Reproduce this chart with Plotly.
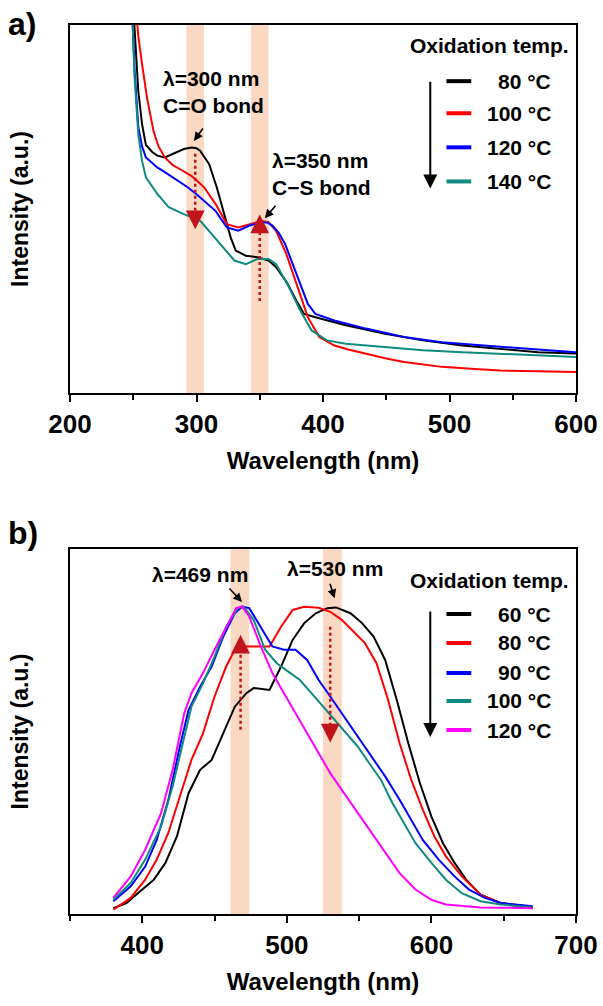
import plotly.graph_objects as go

# ---------------- Panel a (UV-vis absorption) ----------------
a_wl_80 = [250, 252, 254, 257, 260, 265, 269, 275, 284, 290, 296, 300, 303, 310, 316, 322, 327, 331, 339, 348, 357, 363, 372, 379, 385, 394, 418, 449, 479, 510, 540, 570, 600]
a_int_80 = [105, 92, 82, 73, 67.4, 65.5, 64.5, 64, 65.4, 66.3, 66.7, 66.5, 65.8, 62.2, 55.9, 48.6, 42.3, 38.7, 37.3, 36.9, 36, 34.2, 29.7, 25.1, 21.5, 20.6, 18.4, 16.1, 14.3, 12.9, 12, 11.1, 10.7]

a_wl_100 = [252, 254, 257, 261, 266, 270, 275, 281, 287, 296, 301, 306, 315, 324, 333, 342, 351, 357, 363, 371, 379, 388, 397, 409, 420, 433, 450, 464, 480, 494, 520, 540, 570, 600]
a_int_100 = [105, 97, 89.3, 80, 71.2, 67, 64, 62, 60.8, 59, 57.5, 55.9, 51.4, 45.9, 45, 45.9, 46.7, 46.4, 44, 37.8, 29.7, 20.6, 15.2, 12.9, 11.8, 10.7, 9.4, 8.4, 7.6, 7.1, 6.5, 6.1, 5.9, 5.7]

a_wl_120 = [249, 251, 254, 257, 260, 265, 269, 275, 281, 287, 293, 300, 306, 315, 324, 333, 342, 351, 356, 360, 365, 370, 379, 388, 394, 409, 434, 464, 494, 540, 570, 600]
a_int_120 = [105, 88, 72.2, 67, 64, 62.5, 61.3, 60, 58.6, 57.3, 55.9, 54, 52.3, 49.5, 45, 44.1, 45.5, 46.4, 46.3, 45.5, 43.5, 40.5, 32.4, 24.2, 21.5, 19.7, 17.5, 15.2, 13.8, 12.5, 11.8, 11.1]

a_wl_140 = [249, 251, 254, 257, 260, 265, 269, 278, 290, 303, 312, 321, 330, 339, 348, 357, 363, 373, 382, 391, 403, 418, 449, 479, 510, 540, 570, 600]
a_int_140 = [105, 86, 70.3, 63, 58.6, 56, 54.1, 50.5, 48.6, 46.8, 43.2, 39.6, 36, 35, 36.4, 36.4, 35, 28.8, 22.4, 17, 14.3, 13.4, 12.5, 11.6, 11.1, 10.7, 10.2, 9.8]

a_labels = ["80 °C", "100 °C", "120 °C", "140 °C"]
a_bands = [(292, 306), (343, 357)]

# ---------------- Panel b (PL emission) ----------------
b_wl_60 = [380, 389, 400, 408, 416, 424, 432, 440, 448, 456, 464, 472, 477, 488, 496, 504, 512, 520, 528, 534, 544, 552, 560, 568, 576, 584, 592, 600, 608, 616, 624, 634, 648, 670]
b_int_60 = [1.6, 3, 6.7, 9.4, 14, 21.3, 33.1, 39.5, 42.2, 49.5, 56.8, 60.5, 61.9, 61.4, 67.8, 75.1, 79.7, 82.4, 83.8, 84, 82.4, 79.7, 76, 69.6, 58.7, 46.8, 35.9, 26.7, 19.4, 14, 9.4, 5.3, 3, 1.9]

b_wl_80 = [380, 392, 402, 410, 418, 426, 434, 442, 450, 458, 464, 472, 480, 488, 496, 504, 512, 522, 530, 538, 546, 554, 562, 570, 578, 586, 594, 602, 610, 621, 634, 648, 670]
b_int_80 = [1.2, 4.4, 9.4, 14.9, 22.2, 32.2, 42.2, 49.5, 59.6, 67.8, 72.4, 73.3, 73.3, 73.3, 78.7, 83.3, 84.2, 83.9, 82.8, 80.6, 77.4, 74.2, 68.7, 58.7, 46.8, 36.8, 28.6, 21.3, 15.8, 10.3, 5.3, 3, 1.6]

b_wl_90 = [380, 392, 402, 410, 418, 426, 432, 440, 448, 456, 464, 469, 474, 482, 490, 498, 506, 514, 522, 530, 538, 546, 557, 568, 578, 586, 594, 605, 616, 626, 637, 648, 670]
b_int_90 = [3.5, 7.6, 13, 20.3, 31.2, 45.9, 55.9, 62.3, 67.8, 76, 82.4, 84.2, 83.8, 78.7, 73.3, 72.4, 72.4, 69.6, 64.1, 59.6, 55, 50.5, 44.1, 37.7, 31.3, 25.8, 20.3, 14.9, 10.3, 6.7, 4.4, 3, 2.1]

b_wl_100 = [380, 392, 402, 413, 421, 429, 434, 442, 450, 458, 466, 470, 477, 485, 493, 501, 509, 517, 525, 533, 541, 549, 557, 565, 573, 581, 589, 600, 610, 621, 634, 648, 670]
b_int_100 = [3.9, 8.5, 14.9, 24, 35, 48.6, 56.8, 63.2, 70.5, 78.7, 83.8, 84.2, 80.6, 72.4, 68.7, 66.4, 64.1, 60.5, 56.8, 53.2, 49.5, 45.9, 41.3, 36.8, 30.4, 24.9, 19.4, 14, 9.4, 5.7, 3.5, 2.6, 1.8]

b_wl_120 = [380, 392, 402, 413, 421, 429, 434, 442, 450, 458, 465, 469, 474, 482, 490, 498, 506, 514, 522, 530, 538, 546, 554, 562, 570, 578, 589, 600, 610, 634, 670]
b_int_120 = [4.4, 10.3, 17.6, 27.6, 39.5, 55, 60.5, 66, 72.4, 78.7, 83.8, 84.2, 81.5, 73.3, 66, 60.5, 55, 49.5, 44.1, 38.6, 34, 29.5, 24.9, 20.3, 15.8, 11.2, 6.7, 3.9, 2.6, 1.8, 1.6]

b_labels = ["60 °C", "80 °C", "90 °C", "100 °C", "120 °C"]
b_bands = [(461, 474), (525, 538)]

# ---------------- style ----------------
FONT = "Arial, Liberation Sans, sans-serif"
C_BLACK, C_RED, C_BLUE, C_TEAL, C_MAG = "#000000", "#ff0000", "#0000ff", "#0f8a80", "#ff00ff"
BAND = "#fbd8c2"
ARROW_RED = "#c0141c"

a_series = [(a_wl_80, a_int_80, C_BLACK), (a_wl_100, a_int_100, C_RED),
            (a_wl_120, a_int_120, C_BLUE), (a_wl_140, a_int_140, C_TEAL)]
b_series = [(b_wl_60, b_int_60, C_BLACK), (b_wl_80, b_int_80, C_RED), (b_wl_90, b_int_90, C_BLUE),
            (b_wl_100, b_int_100, C_TEAL), (b_wl_120, b_int_120, C_MAG)]

fig = go.Figure()
for (xs, ys, c), lab in zip(a_series, a_labels):
    fig.add_trace(go.Scatter(x=xs, y=ys, mode="lines", line=dict(color=c, width=2),
                             name=lab, showlegend=False, xaxis="x", yaxis="y"))
for (xs, ys, c), lab in zip(b_series, b_labels):
    fig.add_trace(go.Scatter(x=xs, y=ys, mode="lines", line=dict(color=c, width=2),
                             name=lab, showlegend=False, xaxis="x2", yaxis="y2"))

W, H = 603, 1006
def dom_x(px0, px1):
    return [px0 / W, px1 / W]
def dom_y(top, bot):
    return [1 - bot / H, 1 - top / H]

axis_common = dict(showline=True, linewidth=2, linecolor="black", mirror=True,
                   showgrid=False, zeroline=False, automargin=False)
xcommon = dict(axis_common, ticks="outside", ticklen=7, tickwidth=2, tickcolor="black",
               tickfont=dict(family=FONT, size=26, color="black", weight="bold"),
               title_font=dict(family=FONT, size=24, color="black", weight="bold"),
               title_standoff=14)
ycommon = dict(axis_common, showticklabels=False, ticks="", range=[0, 100],
               title_font=dict(family=FONT, size=23, color="black", weight="bold"),
               title_standoff=33)

fig.update_layout(
    width=W, height=H, margin=dict(l=0, r=0, t=0, b=0, autoexpand=False),
    paper_bgcolor="white", plot_bgcolor="white",
    xaxis=dict(xcommon, domain=dom_x(70, 576), range=[200, 600], dtick=100, anchor="y",
               minor=dict(dtick=50, ticks="outside", ticklen=5, tickwidth=2, tickcolor="black"),
               title_text="Wavelength (nm)"),
    yaxis=dict(ycommon, domain=dom_y(25, 393), anchor="x", title_text="Intensity (a.u.)"),
    xaxis2=dict(xcommon, domain=dom_x(70, 576), range=[350, 700], dtick=100, tick0=400, anchor="y2",
                minor=dict(dtick=50, ticks="outside", ticklen=5, tickwidth=2, tickcolor="black"),
                title_text="Wavelength (nm)"),
    yaxis2=dict(ycommon, domain=dom_y(549, 914), anchor="x2", title_text="Intensity (a.u.)"),
    showlegend=False,
)

shapes = []
annotations = []

# shaded bands
for xr, yr, bands in [("x", "y", a_bands), ("x2", "y2", b_bands)]:
    for b0, b1 in bands:
        shapes.append(dict(type="rect", xref=xr, yref=yr + " domain", x0=b0, x1=b1, y0=0, y1=1,
                           fillcolor=BAND, line=dict(width=0), layer="below"))

# red dotted arrows (x, y_start, y_tip)
red_arrows = [("x", "y", 299, 65, 44.5), ("x", "y", 350, 25, 48.5),
              ("x2", "y2", 468, 50.5, 76.5), ("x2", "y2", 530, 78.7, 47)]
for xr, yr, xv, y0, y1 in red_arrows:
    sgn = 1 if y1 > y0 else -1
    shapes.append(dict(type="line", xref=xr, yref=yr, x0=xv, x1=xv, y0=y0, y1=y1 - sgn * 3,
                       line=dict(color=ARROW_RED, width=2.5, dash="dot")))
    annotations.append(dict(xref=xr, yref=yr, x=xv, y=y1, axref=xr, ayref=yr, ax=xv, ay=y1 - sgn * 4,
                            text="", showarrow=True, arrowhead=2, arrowsize=1.5, arrowwidth=2.5,
                            arrowcolor=ARROW_RED))

tf = dict(family=FONT, size=21, color="black", weight="bold")
# peak labels
annotations += [
    dict(xref="x", yref="y", x=272, y=81.9, text="λ=300 nm<br>C=O bond", showarrow=False,
         xanchor="left", yanchor="middle", align="left", font=tf),
    dict(xref="x", yref="y", x=358, y=59.5, text="λ=350 nm<br>C−S bond", showarrow=False,
         xanchor="left", yanchor="middle", align="left", font=tf),
    dict(xref="x2", yref="y2", x=440, y=92.9, text="λ=469 nm", showarrow=False,
         xanchor="center", yanchor="middle", font=tf),
    dict(xref="x2", yref="y2", x=533, y=94.6, text="λ=530 nm", showarrow=False,
         xanchor="center", yanchor="middle", font=tf),
]
# small black pointer arrows (tip in data, tail offset px)
for xr, yr, xv, yv, ax, ay in [("x", "y", 298, 68.5, 10, -14), ("x", "y", 354, 47.5, 12, -14),
                               ("x2", "y2", 469, 85.5, -14, -15), ("x2", "y2", 533, 86.5, -5, -16)]:
    annotations.append(dict(xref=xr, yref=yr, x=xv, y=yv, ax=ax, ay=ay, text="", showarrow=True,
                            arrowhead=2, arrowsize=1.1, arrowwidth=1.6, arrowcolor="black"))

# custom legends
lf = dict(family=FONT, size=21, color="black", weight="bold")
def legend(xr, yr, title_y, rows_y, labels, colors, arrow_top, arrow_bot):
    annotations.append(dict(xref=xr + " domain", yref=yr + " domain", x=0.99, y=title_y,
                            text="Oxidation temp.", showarrow=False, xanchor="right",
                            yanchor="middle", font=lf))
    for ry, lab, c in zip(rows_y, labels, colors):
        shapes.append(dict(type="line", xref=xr + " domain", yref=yr + " domain",
                           x0=0.744, x1=0.793, y0=ry, y1=ry, line=dict(color=c, width=4)))
        annotations.append(dict(xref=xr + " domain", yref=yr + " domain", x=0.955, y=ry,
                                text=lab, showarrow=False, xanchor="right", yanchor="middle", font=lf))
    annotations.append(dict(xref=xr + " domain", yref=yr + " domain", x=0.712, y=arrow_bot,
                            axref=xr + " domain", ayref=yr + " domain", ax=0.712, ay=arrow_top,
                            text="", showarrow=True, arrowhead=2, arrowsize=1.4, arrowwidth=2,
                            arrowcolor="black"))

legend("x", "y", 0.9455, [0.8474, 0.7602, 0.6676, 0.5749], a_labels,
       [C_BLACK, C_RED, C_BLUE, C_TEAL], 0.850, 0.556)
legend("x2", "y2", 0.915, [0.8219, 0.7425, 0.6603, 0.5836, 0.5041], b_labels,
       [C_BLACK, C_RED, C_BLUE, C_TEAL, C_MAG], 0.833, 0.485)

# panel letters
pf = dict(family=FONT, size=32, color="black", weight="bold")
annotations.append(dict(xref="paper", yref="paper", x=6 / W, y=1 - 24 / H, text="a)", showarrow=False,
                        xanchor="left", yanchor="middle", font=pf))
annotations.append(dict(xref="paper", yref="paper", x=6 / W, y=1 - 533 / H, text="b)", showarrow=False,
                        xanchor="left", yanchor="middle", font=pf))

fig.update_layout(shapes=shapes, annotations=annotations)
fig.write_html("out.html")
